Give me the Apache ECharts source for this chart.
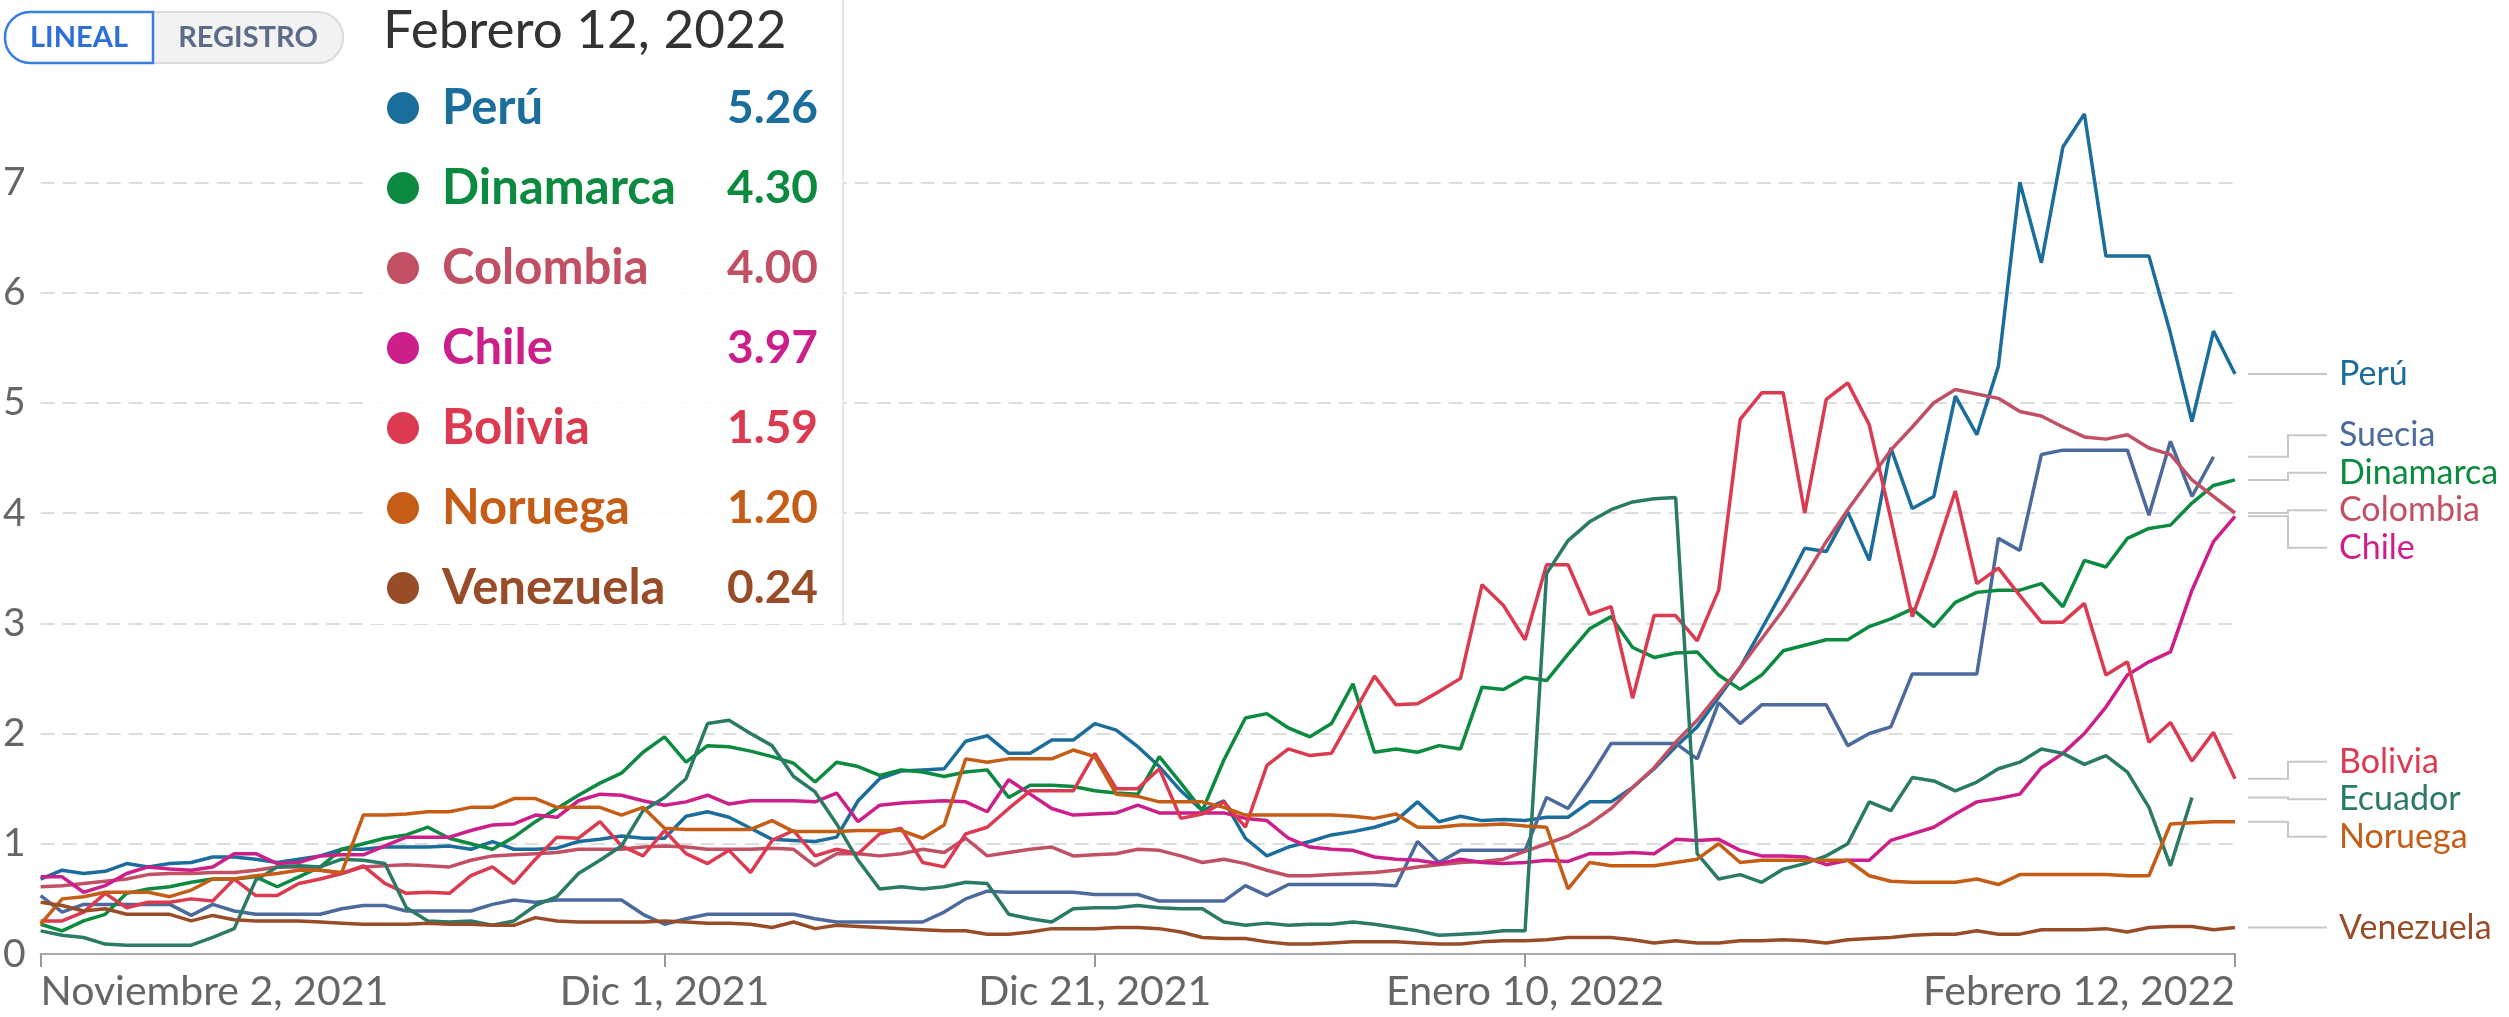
<!DOCTYPE html>
<html>
<head>
<meta charset="utf-8">
<script src="https://cdn.jsdelivr.net/npm/echarts@6/dist/echarts.min.js"></script>
<style>
  html, body { margin: 0; padding: 0; background: #fff; }
  #chart { width: 2509px; height: 1017px; }
</style>
</head>
<body>
<div id="chart"></div>
<script>
// x axis: one point per day from Nov 2, 2021
var tickDays = [0, 29, 49, 69, 102];
var tickLabels = ['Noviembre 2, 2021', 'Dic 1, 2021', 'Dic 21, 2021', 'Enero 10, 2022', 'Febrero 12, 2022'];

var peru = [0.68,0.76,0.73,0.75,0.82,0.79,0.82,0.83,0.88,0.88,0.86,0.83,0.86,0.89,0.95,0.95,0.97,0.97,0.97,0.98,
  0.95,1.02,0.95,0.95,0.96,1.02,1.04,1.07,1.05,1.05,1.25,1.29,1.24,1.14,1.04,1.03,1.02,1.06,1.39,1.59,
  1.66,1.67,1.68,1.93,1.98,1.82,1.82,1.94,1.94,2.09,2.03,1.88,1.70,1.48,1.30,1.39,1.05,0.89,0.97,1.02,
  1.08,1.11,1.15,1.21,1.38,1.20,1.25,1.21,1.22,1.21,1.24,1.24,1.38,1.38,1.51,1.68,1.88,2.06,2.33,2.60,
  2.95,3.30,3.68,3.65,4.01,3.57,4.59,4.04,4.15,5.06,4.71,5.33,7.00,6.27,7.32,7.62,6.33,6.33,6.33,5.63,
  4.83,5.65,5.26];
var suecia = [0.53,0.38,0.45,0.45,0.45,0.45,0.45,0.35,0.45,0.39,0.36,0.36,0.36,0.36,0.41,0.44,0.44,0.39,0.39,0.39,
  0.39,0.45,0.49,0.47,0.49,0.49,0.49,0.49,0.36,0.27,0.32,0.36,0.36,0.36,0.36,0.36,0.32,0.29,0.29,0.29,
  0.29,0.29,0.38,0.50,0.57,0.56,0.56,0.56,0.56,0.54,0.54,0.54,0.48,0.48,0.48,0.48,0.62,0.53,0.63,0.63,
  0.63,0.63,0.63,0.62,1.02,0.83,0.94,0.94,0.94,0.94,1.42,1.32,1.60,1.91,1.91,1.91,1.91,1.77,2.28,2.09,
  2.26,2.26,2.26,2.26,1.89,2.00,2.06,2.54,2.54,2.54,2.54,3.77,3.66,4.53,4.57,4.57,4.57,4.57,3.98,4.65,
  4.15,4.51];
var dinamarca = [0.27,0.21,0.30,0.36,0.55,0.59,0.61,0.65,0.68,0.68,0.70,0.61,0.70,0.79,0.95,1.00,1.05,1.08,1.15,1.05,
  1.00,0.95,1.06,1.20,1.32,1.44,1.55,1.64,1.83,1.97,1.74,1.89,1.88,1.84,1.79,1.73,1.56,1.74,1.70,1.62,
  1.67,1.65,1.61,1.65,1.67,1.42,1.53,1.53,1.52,1.48,1.46,1.45,1.79,1.55,1.30,1.76,2.14,2.18,2.05,1.97,
  2.09,2.45,1.83,1.86,1.83,1.89,1.86,2.42,2.40,2.51,2.48,2.72,2.95,3.06,2.78,2.69,2.73,2.74,2.53,2.40,
  2.53,2.75,2.80,2.85,2.85,2.97,3.04,3.13,2.97,3.19,3.28,3.30,3.30,3.36,3.15,3.57,3.51,3.77,3.86,3.89,
  4.09,4.25,4.30];
var colombia = [0.61,0.62,0.64,0.66,0.68,0.72,0.73,0.73,0.74,0.74,0.76,0.79,0.79,0.76,0.73,0.79,0.80,0.81,0.80,0.79,
  0.85,0.89,0.90,0.91,0.92,0.95,0.95,0.95,0.97,0.98,0.97,0.95,0.95,0.95,0.96,0.95,0.80,0.91,0.91,0.89,
  0.91,0.95,0.92,1.05,0.89,0.92,0.95,0.97,0.89,0.90,0.91,0.95,0.94,0.89,0.83,0.86,0.82,0.76,0.71,0.71,
  0.72,0.73,0.74,0.76,0.79,0.81,0.83,0.84,0.86,0.93,1.00,1.07,1.18,1.32,1.51,1.69,1.92,2.12,2.36,2.60,
  2.86,3.12,3.42,3.74,4.03,4.30,4.57,4.78,5.00,5.12,5.08,5.04,4.92,4.88,4.78,4.69,4.67,4.71,4.59,4.53,
  4.30,4.15,4.00];
var chile = [0.70,0.70,0.56,0.62,0.73,0.79,0.77,0.76,0.79,0.91,0.91,0.82,0.83,0.89,0.90,0.90,0.98,1.06,1.06,1.06,
  1.12,1.17,1.18,1.26,1.24,1.39,1.45,1.44,1.39,1.35,1.38,1.44,1.36,1.39,1.39,1.39,1.38,1.46,1.20,1.35,
  1.37,1.38,1.39,1.38,1.29,1.58,1.45,1.32,1.26,1.27,1.28,1.35,1.28,1.28,1.28,1.28,1.23,1.21,1.05,0.97,
  0.95,0.94,0.88,0.86,0.85,0.82,0.86,0.83,0.82,0.83,0.85,0.84,0.91,0.91,0.92,0.91,1.04,1.03,1.04,0.94,
  0.89,0.89,0.88,0.81,0.85,0.85,1.03,1.09,1.15,1.27,1.38,1.41,1.45,1.69,1.82,2.00,2.24,2.53,2.65,2.74,
  3.30,3.74,3.97];
var bolivia = [0.30,0.30,0.38,0.55,0.42,0.47,0.47,0.50,0.48,0.68,0.53,0.53,0.64,0.68,0.73,0.80,0.64,0.55,0.56,0.55,
  0.71,0.79,0.64,0.86,1.06,1.05,1.20,0.98,0.89,1.12,0.91,0.82,0.94,0.74,1.03,1.12,0.89,0.95,0.91,1.09,
  1.14,0.83,0.79,1.09,1.15,1.32,1.48,1.48,1.48,1.82,1.50,1.50,1.68,1.23,1.27,1.38,1.15,1.71,1.86,1.80,
  1.82,2.17,2.52,2.26,2.27,2.38,2.50,3.35,3.16,2.85,3.53,3.53,3.08,3.15,2.32,3.07,3.07,2.84,3.30,4.85,
  5.09,5.09,4.00,5.03,5.18,4.80,3.95,3.06,3.60,4.20,3.36,3.50,3.25,3.01,3.01,3.18,2.53,2.65,1.92,2.10,
  1.75,2.01,1.59];
var ecuador = [0.21,0.17,0.15,0.09,0.08,0.08,0.08,0.08,0.15,0.23,0.67,0.79,0.80,0.79,0.86,0.85,0.82,0.42,0.30,0.29,
  0.30,0.26,0.30,0.44,0.52,0.73,0.85,0.98,1.30,1.42,1.59,2.09,2.12,2.00,1.89,1.61,1.47,1.18,0.85,0.59,
  0.61,0.59,0.61,0.65,0.64,0.36,0.32,0.29,0.41,0.42,0.42,0.44,0.42,0.41,0.41,0.29,0.26,0.28,0.26,0.27,
  0.27,0.29,0.27,0.24,0.21,0.17,0.18,0.19,0.21,0.21,3.45,3.75,3.92,4.03,4.10,4.13,4.14,0.91,0.68,0.72,
  0.65,0.77,0.82,0.89,1.00,1.38,1.30,1.60,1.57,1.48,1.56,1.68,1.74,1.86,1.82,1.72,1.80,1.65,1.33,0.80,
  1.42];
var noruega = [0.27,0.50,0.52,0.56,0.56,0.56,0.52,0.58,0.68,0.68,0.71,0.73,0.76,0.76,0.74,1.26,1.26,1.27,1.29,1.29,
  1.33,1.33,1.41,1.41,1.33,1.33,1.33,1.26,1.33,1.14,1.13,1.13,1.13,1.13,1.21,1.11,1.11,1.11,1.12,1.12,
  1.12,1.05,1.17,1.77,1.74,1.77,1.77,1.77,1.85,1.79,1.45,1.43,1.38,1.38,1.38,1.33,1.26,1.26,1.26,1.26,
  1.26,1.25,1.23,1.27,1.15,1.15,1.17,1.17,1.18,1.16,1.15,0.59,0.83,0.80,0.80,0.80,0.83,0.86,1.00,0.83,
  0.85,0.85,0.85,0.85,0.85,0.71,0.66,0.65,0.65,0.65,0.68,0.63,0.72,0.72,0.72,0.72,0.72,0.71,0.71,1.18,
  1.19,1.20,1.20];
var venezuela = [0.47,0.44,0.39,0.41,0.36,0.36,0.36,0.30,0.35,0.31,0.30,0.30,0.30,0.29,0.28,0.27,0.27,0.27,0.28,0.27,
  0.27,0.26,0.26,0.33,0.30,0.29,0.29,0.29,0.29,0.30,0.29,0.28,0.28,0.27,0.24,0.29,0.23,0.26,0.25,0.24,
  0.23,0.22,0.21,0.21,0.18,0.18,0.20,0.23,0.23,0.23,0.24,0.24,0.23,0.20,0.15,0.14,0.14,0.11,0.09,0.09,
  0.10,0.11,0.11,0.11,0.10,0.09,0.09,0.11,0.12,0.12,0.13,0.15,0.15,0.15,0.13,0.10,0.12,0.10,0.10,0.12,
  0.12,0.13,0.12,0.10,0.13,0.14,0.15,0.17,0.18,0.18,0.21,0.18,0.18,0.22,0.22,0.22,0.23,0.20,0.24,0.25,
  0.25,0.22,0.24];

var countries = [
  { name: 'Perú',      data: peru,      color: '#1b6e9b' },
  { name: 'Suecia',    data: suecia,    color: '#4c6a9c' },
  { name: 'Dinamarca', data: dinamarca, color: '#0b8a40' },
  { name: 'Colombia',  data: colombia,  color: '#c15065' },
  { name: 'Chile',     data: chile,     color: '#cc1f8a' },
  { name: 'Bolivia',   data: bolivia,   color: '#dc3a50' },
  { name: 'Ecuador',   data: ecuador,   color: '#2a7a66' },
  { name: 'Noruega',   data: noruega,   color: '#c55d17' },
  { name: 'Venezuela', data: venezuela, color: '#984d28' }
];

var days = [];
for (var i = 0; i < peru.length; i++) {
  var d = new Date(2021, 10, 2 + i);
  days.push(d.getFullYear() + '-' + (d.getMonth() + 1) + '-' + d.getDate());
}

var FONT = 'Lato, "Noto Sans", sans-serif';
var chart = echarts.init(document.getElementById('chart'));

var isTick = function (idx) { return tickDays.indexOf(idx) >= 0; };

var option = {
  animation: false,
  grid: { left: 40, right: 274, top: 72, bottom: 63 },
  xAxis: {
    type: 'category',
    data: days,
    boundaryGap: false,
    axisLine: { lineStyle: { color: '#aaa', width: 2 } },
    axisTick: { show: true, interval: isTick, length: 13, lineStyle: { color: '#999', width: 2 } },
    axisLabel: {
      interval: isTick,
      formatter: function (v, idx) { return tickLabels[tickDays.indexOf(idx)]; },
      fontFamily: FONT, fontSize: 41, color: '#666', margin: 17,
      alignMinLabel: 'left', alignMaxLabel: 'right'
    },
    splitLine: { show: false }
  },
  yAxis: {
    type: 'value',
    min: 0, max: 8, interval: 1,
    axisLine: { show: false },
    axisTick: { show: false },
    axisLabel: { fontFamily: FONT, fontSize: 39, color: '#666', margin: 15, showMaxLabel: false },
    splitLine: { showMinLine: false, showMaxLine: false, lineStyle: { color: '#ddd', width: 2, type: [14, 8] } }
  },
  series: countries.map(function (c) {
    return {
      name: c.name, type: 'line', data: c.data,
      showSymbol: false, symbol: 'none',
      lineStyle: { color: c.color, width: 3.5 },
      itemStyle: { color: c.color },
      emphasis: { disabled: true }
    };
  })
};
chart.setOption(option);

// ---- right side labels with connectors
var gap = 37.5;
var ends = countries.map(function (c) {
  var last = c.data.length - 1;
  var p = chart.convertToPixel({ xAxisIndex: 0, yAxisIndex: 0 }, [last, c.data[last]]);
  return { c: c, y: p[1] };
}).sort(function (a, b) { return a.y - b.y; });

var groups = ends.map(function (e) { return { items: [e], sum: e.y }; });
var moved = true;
function gTop(g) { return g.sum / g.items.length - (g.items.length - 1) * gap / 2; }
while (moved) {
  moved = false;
  for (var k = 1; k < groups.length; k++) {
    var a = groups[k - 1], b = groups[k];
    if (gTop(a) + a.items.length * gap > gTop(b)) {
      a.items = a.items.concat(b.items);
      a.sum += b.sum;
      groups.splice(k, 1);
      moved = true;
      break;
    }
  }
}

var plotRight = chart.convertToPixel({ xAxisIndex: 0 }, peru.length - 1);
var graphics = [];
groups.forEach(function (g) {
  var top = gTop(g);
  g.items.forEach(function (e, j) {
    var ly = top + j * gap;
    var x0 = plotRight + 13, xe = plotRight + 53, x1 = plotRight + 92;
    graphics.push({
      type: 'polyline', z: 50,
      shape: { points: [[x0, e.y], [xe, e.y], [xe, ly], [x1, ly]] },
      style: { stroke: '#c8c8c8', lineWidth: 2, fill: null }
    });
    graphics.push({
      type: 'text', z: 50, x: plotRight + 104, y: ly,
      style: { text: e.c.name, fill: e.c.color, font: '34px ' + FONT, textVerticalAlign: 'middle', verticalAlign: 'middle' }
    });
  });
});

// ---- hover box with the values of the last day
var lastIdx = peru.length - 1;
var rows = countries.filter(function (c) { return c.data.length - 1 === lastIdx; })
  .sort(function (a, b) { return b.data[lastIdx] - a.data[lastIdx]; });

graphics.push({
  type: 'rect', z: 100,
  shape: { x: 365, y: 0, width: 478, height: 624 },
  style: { fill: 'rgba(255,255,255,0.9)' }
});
graphics.push({
  type: 'line', z: 100,
  shape: { x1: 843, y1: 0, x2: 843, y2: 624 },
  style: { stroke: '#e6e6e6', lineWidth: 2 }
});
graphics.push({
  type: 'text', z: 101, x: 383, y: 31,
  style: { text: tickLabels[tickLabels.length - 1], fill: '#333', font: '53px ' + FONT, textVerticalAlign: 'middle', verticalAlign: 'middle' }
});
rows.forEach(function (c, i) {
  var cy = 108 + i * 80;
  graphics.push({ type: 'circle', z: 101, shape: { cx: 403, cy: cy, r: 16 }, style: { fill: c.color } });
  graphics.push({
    type: 'text', z: 101, x: 442, y: cy,
    style: { text: c.name, fill: c.color, font: 'bold 49px ' + FONT, textVerticalAlign: 'middle', verticalAlign: 'middle' }
  });
  graphics.push({
    type: 'text', z: 101, x: 818, y: cy,
    style: { text: c.data[lastIdx].toFixed(2), fill: c.color, font: 'bold 46px ' + FONT, textAlign: 'right', align: 'right', textVerticalAlign: 'middle', verticalAlign: 'middle' }
  });
});

// ---- LINEAL / REGISTRO toggle
graphics.push({
  type: 'rect', z: 100,
  shape: { x: 5, y: 12, width: 338, height: 51, r: 25 },
  style: { fill: '#f2f2f2', stroke: '#dadada', lineWidth: 2 }
});
graphics.push({
  type: 'rect', z: 101,
  shape: { x: 5, y: 12, width: 148, height: 51, r: [25, 0, 0, 25] },
  style: { fill: '#fff', stroke: '#3a7fdf', lineWidth: 2.5 }
});
graphics.push({
  type: 'text', z: 102, x: 79, y: 38,
  style: { text: 'LINEAL', fill: '#2c6fd6', font: 'bold 29px ' + FONT, textAlign: 'center', align: 'center', textVerticalAlign: 'middle', verticalAlign: 'middle' }
});
graphics.push({
  type: 'text', z: 102, x: 248, y: 38,
  style: { text: 'REGISTRO', fill: '#5b6b88', font: 'bold 29px ' + FONT, textAlign: 'center', align: 'center', textVerticalAlign: 'middle', verticalAlign: 'middle' }
});

chart.setOption({ graphic: { elements: graphics } });
</script>
</body>
</html>
